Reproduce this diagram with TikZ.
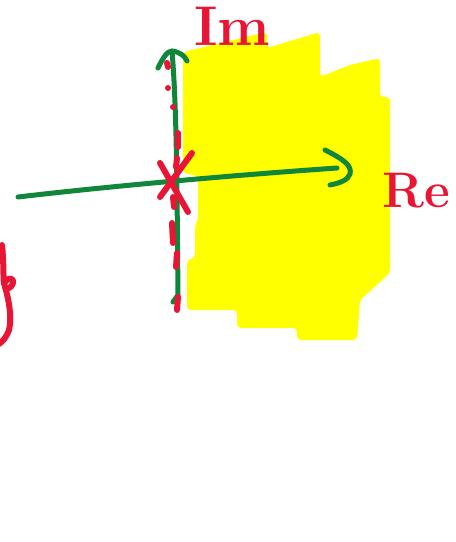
\documentclass[tikz,border=0pt]{standalone}
\usetikzlibrary{arrows.meta}

\definecolor{penred}{RGB}{232,22,52}
\definecolor{pengreen}{RGB}{16,134,58}
\definecolor{hilite}{RGB}{255,255,0}

\begin{document}
\begin{tikzpicture}[
  x=1pt, y=-1pt,
  axis/.style={draw=pengreen, line width=5pt, line cap=round, line join=round},
  redpen/.style={draw=penred, line width=6pt, line cap=round, line join=round},
  axislabel/.style={text=penred, font=\bfseries\fontsize{56}{56}\selectfont, inner sep=0pt}
]
\useasboundingbox (0,0) rectangle (456,542);

% shaded half plane
\fill[hilite, rounded corners=4pt]
  (183,52) -- (225,42) -- (267,32) -- (267,48) -- (300,38) -- (320,32)
  -- (320,77) -- (350,65) -- (380,58) -- (380,97) -- (390,97)
  -- (390,273) -- (360,300) -- (357,340) -- (297,340) -- (297,328)
  -- (237,328) -- (237,310) -- (187,310) -- (187,260) -- (195,258)
  -- (195,225) -- (198,222) -- (198,176) -- (183,173) -- cycle;

% axes
\coordinate (reW) at (18,197);
\coordinate (reE) at (337,168);
\coordinate (imS) at (178,295);
\coordinate (imN) at (172,51);

\draw[axis] (reW) .. controls (120,185) and (250,174) .. (reE);
\draw[axis] (325,150) .. controls (345,160) and (352,166) .. (350,174)
  .. controls (348,180) and (340,183) .. (330,185);
\draw[axis] (173,302) -- (imS) .. controls (177,200) and (177,110) .. (imN);
\draw[axis] (158,68) .. controls (163,58) and (167,51) .. (imN)
  .. controls (180,52) and (185,56) .. (187,61);

% dashed imaginary axis
\foreach \ya/\yb/\xa/\xb in {63/67/167/168, 88/88/168/168, 107/107/173/173,
    133/147/178/178, 158/167/177/176, 197/207/173/174, 223/243/172/173,
    253/267/177/176, 297/310/178/177}
  \draw[redpen] (\xa,\ya) -- (\xb,\yb);

% pole at the origin
\draw[redpen] (160,163) -- (188,212);
\draw[redpen] (192,153) -- (160,197);

% labels
\node[axislabel] (im) at (232,26) {Im};
\node[axislabel, font=\bfseries\fontsize{50}{50}\selectfont] (re) at (416,191) {Re};

% cut-off stroke at the left edge
\draw[redpen] (2,245) .. controls (4,265) and (3,275) .. (4,284)
  .. controls (6,278) and (14,276) .. (13,283)
  .. controls (12,288) and (6,290) .. (5,287)
  .. controls (9,300) and (12,318) .. (9,330)
  .. controls (6,338) and (2,342) .. (-1,344);
\end{tikzpicture}
\end{document}
